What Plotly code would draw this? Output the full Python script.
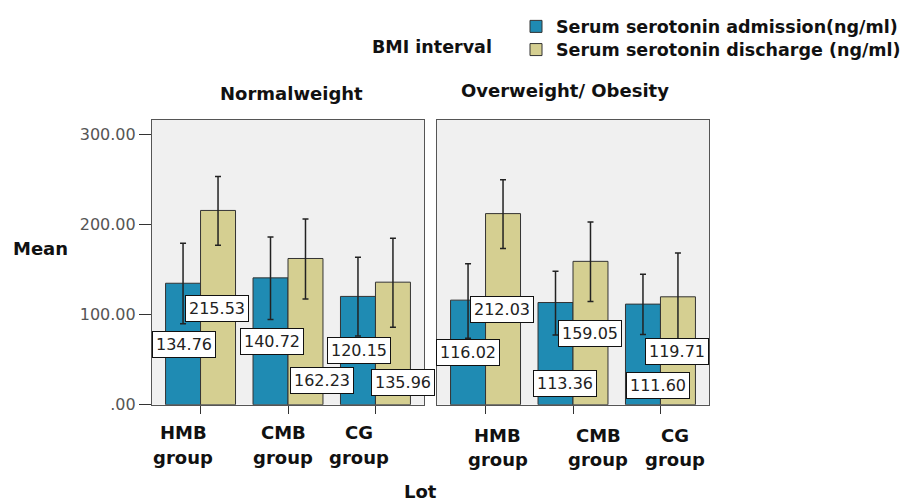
import plotly.graph_objects as go

# ---------------- data ----------------
categories = ["HMB group", "CMB group", "CG group"]
tick_lines = [["HMB", "group"], ["CMB", "group"], ["CG", "group"]]
panels = ["Normalweight", "Overweight/ Obesity"]
series_names = ["Serum serotonin admission(ng/ml)", "Serum serotonin discharge (ng/ml)"]

admission_normal = [134.76, 140.72, 120.15]
discharge_normal = [215.53, 162.23, 135.96]
admission_over = [116.02, 113.36, 111.60]
discharge_over = [212.03, 159.05, 119.71]

# error bar bounds (upper / lower)
adm_normal_hi = [179.2, 186.0, 163.6]
adm_normal_lo = [89.8, 94.5, 76.3]
dis_normal_hi = [253.3, 206.0, 184.6]
dis_normal_lo = [177.0, 117.4, 86.0]
adm_over_hi = [156.3, 148.0, 144.7]
adm_over_lo = [73.8, 77.4, 78.0]
dis_over_hi = [249.7, 202.8, 168.3]
dis_over_lo = [173.4, 114.5, 70.9]

y_tickvals = [0, 100, 200, 300]
y_ticktext = [".00", "100.00", "200.00", "300.00"]

# ---------------- label placement (layout only) ----------------
lab_dx = {
    ("n", 0): [-0.19, -0.18, -0.19],
    ("n", 1): [0.19, 0.39, 0.32],
    ("o", 0): [-0.20, -0.09, -0.03],
    ("o", 1): [0.19, 0.20, 0.19],
}
lab_y = {
    ("n", 0): [66.8, 69.6, 59.6],
    ("n", 1): [107.2, 26.4, 24.3],
    ("o", 0): [57.6, 24.0, 21.3],
    ("o", 1): [106.0, 78.5, 58.7],
}
tick_label_x = {"n": [183, 283, 359], "o": [498, 598, 675]}
tick_label_y = {"n": [432, 457], "o": [435, 460]}

BLUE = "#1F8BB3"
YELLOW = "#D5CF91"
colors = [BLUE, YELLOW]
FAM = "DejaVu Sans"

# page geometry (measured mapping of the page onto the screenshot)
W, H = 900, 495
OX = 8
OY, SY = 11.1, 0.9745


def fx(px):
    return (px - OX) / W


def fy(py):
    return 1 - ((py - OY) / SY) / H


def bold(size):
    return dict(family=FAM, size=size, color="#111111", weight="bold")


fig = go.Figure()

panel_data = [
    ("n", "x", "y", [admission_normal, discharge_normal],
     [adm_normal_hi, dis_normal_hi], [adm_normal_lo, dis_normal_lo]),
    ("o", "x2", "y2", [admission_over, discharge_over],
     [adm_over_hi, dis_over_hi], [adm_over_lo, dis_over_lo]),
]
legend_ids = ["legend", "legend2"]

annotations = []
for pi, (key, xa, ya, vals, his, los) in enumerate(panel_data):
    for si in range(2):
        v = vals[si]
        fig.add_trace(go.Bar(
            x=categories, y=v, name=series_names[si],
            xaxis=xa, yaxis=ya,
            marker=dict(color=colors[si], line=dict(color="#333333", width=1)),
            error_y=dict(type="data", symmetric=False,
                         array=[h - m for h, m in zip(his[si], v)],
                         arrayminus=[m - l for l, m in zip(los[si], v)],
                         color="#222222", thickness=1.5, width=3),
            showlegend=(pi == 0),
            legend=legend_ids[si],
            hoverinfo="skip",
        ))
        for ci in range(3):
            annotations.append(dict(
                x=ci + lab_dx[(key, si)][ci], y=lab_y[(key, si)][ci],
                xref=xa, yref=ya, text=f"{v[ci]:.2f}", showarrow=False,
                xanchor="center", yanchor="middle",
                font=dict(family=FAM, size=16, color="#222222"),
                bgcolor="white", bordercolor="#111111", borderwidth=1, borderpad=3,
            ))
    # category labels (two lines each)
    for ci in range(3):
        for li in range(2):
            annotations.append(dict(
                x=fx(tick_label_x[key][ci]), y=fy(tick_label_y[key][li]),
                xref="paper", yref="paper", xanchor="center", yanchor="middle",
                text=tick_lines[ci][li], showarrow=False, font=bold(18),
            ))


def txt(text, cx, cy, size=18):
    return dict(x=fx(cx), y=fy(cy), xref="paper", yref="paper",
                xanchor="center", yanchor="middle", text=text,
                showarrow=False, font=bold(size))


annotations += [
    txt(panels[0], 291, 89),
    txt(panels[1], 565, 86),
    txt("Mean", 40, 246),
    txt("Lot", 420, 492),
    txt("BMI interval", 432, 41, 17.5),
]

xr = [-0.555, 2.555]
yr = [0, 316.4]
ydom = [fy(404), fy(115)]
frame = dict(showline=True, linecolor="#555555", linewidth=1.2, mirror=True,
             showgrid=False, zeroline=False)


def leg(top_px):
    return dict(x=fx(516), y=fy(top_px), xanchor="left", yanchor="top",
                bgcolor="rgba(0,0,0,0)", borderwidth=0,
                font=bold(17.5), itemclick=False, itemdoubleclick=False)


fig.update_layout(
    width=W, height=H,
    margin=dict(l=0, r=0, t=0, b=0),
    paper_bgcolor="white", plot_bgcolor="#F0F0F0",
    barmode="group", bargap=0.2, bargroupgap=0,
    xaxis=dict(domain=[fx(152), fx(424)], range=xr, anchor="y",
               ticks="outside", ticklen=8, tickcolor="#333333",
               showticklabels=False, **frame),
    xaxis2=dict(domain=[fx(437), fx(709)], range=xr, anchor="y2",
                ticks="outside", ticklen=8, tickcolor="#333333",
                showticklabels=False, **frame),
    yaxis=dict(domain=ydom, range=yr, anchor="x",
               tickvals=y_tickvals, ticktext=y_ticktext,
               ticks="outside", ticklen=12, tickcolor="#333333",
               tickfont=dict(family=FAM, size=16, color="#555555"),
               **frame),
    yaxis2=dict(domain=ydom, range=yr, anchor="x2",
                showticklabels=False, ticks="", **frame),
    legend=leg(2.5),
    legend2=leg(26),
    annotations=annotations,
    showlegend=True,
)

fig.write_html("out.html")
